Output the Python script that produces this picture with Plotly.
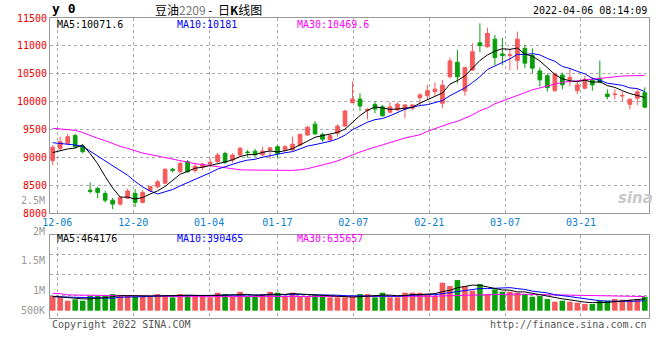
import pandas as pd
import plotly.graph_objects as go

# ---------------- data ----------------
holidays = ["2022-01-03", "2022-01-31", "2022-02-01", "2022-02-02", "2022-02-03", "2022-02-04"]
dates = pd.bdate_range("2021-12-03", "2022-04-01", freq="C", holidays=holidays)
date_labels = [d.strftime("%m-%d") for d in dates]

opens = [8940, 9160, 9250, 9390, 9200, 8410, 8440, 8350, 8230, 8160,
         8265, 8350, 8190, 8400, 8470, 8535, 8785, 8740, 8920, 8760,
         8820, 8880, 8920, 9070, 8950, 9040, 9095, 9110, 9045, 9130,
         9190, 9130, 9130, 9220, 9400, 9595, 9410, 9310, 9430, 9560,
         9980, 10045, 9840, 9950, 9905, 9810, 9850, 9865, 9880, 10070,
         10105, 10180, 9970, 10445, 10705, 10190, 10565, 11055, 10985, 11120,
         10855, 10830, 10735, 10955, 10825, 10550, 10465, 10195, 10475, 10390,
         10195, 10240, 10385, 10415, 10135, 10125, 10100, 9950, 10060, 10160]
highs = [9220, 9370, 9420, 9420, 9230, 8550, 8470, 8400, 8270, 8305,
         8440, 8430, 8410, 8490, 8600, 8800, 8810, 8920, 8950, 8890,
         8900, 8980, 9080, 9100, 9070, 9190, 9130, 9150, 9190, 9175,
         9220, 9220, 9370, 9430, 9560, 9650, 9440, 9410, 9590, 9850,
         10360, 10150, 9880, 10000, 9940, 9990, 9985, 9955, 9950, 10150,
         10300, 10345, 10390, 10790, 10925, 10625, 11045, 11405, 11325, 11195,
         11145, 10950, 11255, 11015, 10955, 10610, 10505, 10520, 10520, 10595,
         10355, 10460, 10435, 10735, 10220, 10220, 10180, 10060, 10220, 10255]
lows = [8860, 9110, 9220, 9160, 9070, 8350, 8260, 8190, 8070, 8130,
        8250, 8110, 8170, 8380, 8440, 8520, 8725, 8725, 8720, 8725,
        8770, 8820, 8900, 8880, 8900, 9000, 8995, 9010, 9020, 8970,
        8980, 9110, 9110, 9205, 9385, 9400, 9280, 9300, 9370, 9550,
        9970, 9830, 9680, 9790, 9730, 9790, 9830, 9700, 9850, 9940,
        10030, 10105, 9880, 10415, 10330, 10105, 10550, 10885, 10965, 10655,
        10655, 10560, 10565, 10600, 10510, 10265, 10180, 10175, 10220, 10280,
        10135, 10220, 10195, 10330, 10040, 10040, 10000, 9860, 9940, 9880]
closes = [9180, 9280, 9370, 9190, 9100, 8390, 8370, 8230, 8160, 8275,
          8395, 8190, 8370, 8475, 8560, 8785, 8765, 8890, 8740, 8840,
          8875, 8910, 9040, 8910, 9040, 9160, 9085, 9045, 9110, 9170,
          9070, 9190, 9235, 9410, 9540, 9420, 9325, 9390, 9560, 9830,
          10045, 9920, 9860, 9865, 9745, 9905, 9955, 9940, 9940, 10120,
          10195, 10225, 10295, 10730, 10445, 10610, 10895, 11005, 11225, 10790,
          10825, 10840, 11120, 10690, 10600, 10390, 10250, 10495, 10300, 10435,
          10300, 10400, 10300, 10345, 10090, 10135, 10110, 10040, 10175, 9900]
volumes = [660000, 600000, 450000, 510000, 450000, 660000, 660000, 660000, 750000, 660000,
           660000, 630000, 630000, 630000, 750000, 700000, 600000, 750000, 700000, 660000,
           700000, 600000, 810000, 750000, 630000, 850000, 630000, 630000, 750000, 850000,
           810000, 630000, 810000, 660000, 660000, 700000, 660000, 600000, 600000, 600000,
           600000, 750000, 750000, 600000, 810000, 600000, 600000, 810000, 810000, 810000,
           750000, 660000, 1260000, 1110000, 1380000, 1110000, 900000, 1200000, 750000, 960000,
           855000, 855000, 810000, 750000, 630000, 660000, 525000, 405000, 450000, 405000,
           360000, 300000, 300000, 450000, 450000, 525000, 495000, 495000, 525000, 630000]

# moving-average values at the left edge (need history before the window)
ma5_head = [9085, 9120, 9150, 9165]
ma10_head = [9262, 9250, 9240, 9220, 9195, 9107, 9019, 8931, 8843]
ma30_price = [9520, 9512, 9505, 9485, 9445, 9390, 9340, 9300, 9250, 9195,
              9160, 9115, 9075, 9050, 9020, 9000, 8970, 8940, 8915, 8885,
              8870, 8850, 8825, 8805, 8785, 8775, 8772, 8770, 8770, 8770,
              8768, 8765, 8765, 8775, 8795, 8830, 8858, 8895, 8935, 8990,
              9050, 9095, 9140, 9180, 9225, 9265, 9310, 9345, 9375, 9405,
              9465, 9515, 9560, 9610, 9645, 9700, 9760, 9835, 9885, 9960,
              10010, 10065, 10120, 10165, 10210, 10245, 10280, 10320, 10345, 10360,
              10375, 10385, 10400, 10415, 10435, 10445, 10458, 10463, 10467, 10470]
vma5_head = [650000, 620000, 580000, 540000]
vma10_head = [630000, 620000, 610000, 600000, 590000, 580000, 570000, 560000, 560000]
vma30 = [780000, 770000, 710000, 705000, 700000, 665000, 660000, 660000, 655000, 655000,
         650000, 635000, 632000, 630000, 630000, 630000, 630000, 630000, 630000, 630000,
         630000, 632000, 632000, 632000, 633000, 633000, 633000, 633000, 634000, 634000,
         634000, 634000, 635000, 635000, 635000, 635000, 636000, 636000, 636000, 636000,
         636000, 636000, 637000, 637000, 637000, 637000, 638000, 638000, 638000, 640000,
         640000, 650000, 665000, 675000, 690000, 700000, 720000, 735000, 740000, 745000,
         745000, 745000, 745000, 740000, 740000, 735000, 730000, 725000, 720000, 715000,
         705000, 700000, 690000, 680000, 670000, 660000, 655000, 650000, 645000, 636000]

tick_dates = ["12-06", "12-20", "01-04", "01-17", "02-07", "02-21", "03-07", "03-21"]
price_ticks = [8000, 8500, 9000, 9500, 10000, 10500, 11000, 11500]

# ---------------- derived ----------------
n = len(closes)
xs = list(range(n))


def rolling(vals, w, head):
    return head + [sum(vals[i - w + 1:i + 1]) / w for i in range(w - 1, len(vals))]


ma5 = rolling(closes, 5, ma5_head)
ma10 = rolling(closes, 10, ma10_head)
vma5 = rolling(volumes, 5, vma5_head)
vma10 = rolling(volumes, 10, vma10_head)

RED = "#F65A5A"
GREEN = "#0A9F0A"
bar_colors = [RED if c >= o else GREEN for o, c in zip(opens, closes)]
# Sina's date grid runs on a slightly different step than the candles
tick_pos = [date_labels.index(d) * n / (n - 1) - 0.4 for d in tick_dates]

MONO = "DejaVu Sans Mono"
CJK = "Noto Sans CJK SC"

fig = go.Figure()
fig.add_trace(go.Candlestick(
    x=xs, open=opens, high=highs, low=lows, close=closes,
    increasing=dict(line=dict(color=RED, width=1), fillcolor=RED),
    decreasing=dict(line=dict(color=GREEN, width=1), fillcolor=GREEN),
    whiskerwidth=0, xaxis="x", yaxis="y", hoverinfo="skip"))
fig.add_trace(go.Scatter(x=xs, y=ma30_price, mode="lines", line=dict(color="#FF00FF", width=1), xaxis="x", yaxis="y"))
fig.add_trace(go.Scatter(x=xs, y=ma10, mode="lines", line=dict(color="#0000FF", width=1), xaxis="x", yaxis="y"))
fig.add_trace(go.Scatter(x=xs, y=ma5, mode="lines", line=dict(color="#000000", width=1), xaxis="x", yaxis="y"))

fig.add_trace(go.Bar(x=xs, y=volumes, marker=dict(color=bar_colors, line=dict(width=0)), width=0.74,
                     xaxis="x2", yaxis="y2"))
fig.add_trace(go.Scatter(x=xs, y=vma30, mode="lines", line=dict(color="#FF00FF", width=1), xaxis="x2", yaxis="y2"))
fig.add_trace(go.Scatter(x=xs, y=vma10, mode="lines", line=dict(color="#0000FF", width=1), xaxis="x2", yaxis="y2"))
fig.add_trace(go.Scatter(x=xs, y=vma5, mode="lines", line=dict(color="#000000", width=1), xaxis="x2", yaxis="y2"))

grid = dict(showgrid=True, gridcolor="#AAAAAA", griddash="dot", gridwidth=1, zeroline=False,
            showline=True, mirror=True, linecolor="#999999", linewidth=1, ticks="", automargin=False)
xr = [-0.36, 79.56]

fig.update_layout(
    width=660, height=360, margin=dict(l=50, r=11, t=18, b=42),
    paper_bgcolor="white", plot_bgcolor="white", showlegend=False, hovermode=False,
    xaxis=dict(domain=[0, 1], anchor="y", range=xr, tickvals=tick_pos, ticktext=tick_dates,
               tickfont=dict(family=MONO, size=10, color="#0A7FD0"), rangeslider=dict(visible=False), **grid),
    yaxis=dict(domain=[0.35, 1], anchor="x", range=[8000, 11500], tickvals=price_ticks,
               ticktext=[str(v) for v in price_ticks],
               tickfont=dict(family=MONO, size=10, color="#EE0000"), **grid),
    xaxis2=dict(domain=[0, 1], anchor="y2", range=xr, tickvals=tick_pos, showticklabels=False, **grid),
    yaxis2=dict(domain=[0, 0.2777], anchor="x2", range=[-328500, 3420000],
                tickvals=[706500, 1606500, 2506500], showticklabels=False, **grid),
)

ann = []


def text(x, y, s, color="#000", size=10, anchor="left", family=MONO, yanchor="middle"):
    ann.append(dict(x=x, y=y, xref="paper", yref="paper", text=s, showarrow=False, xanchor=anchor,
                    yanchor=yanchor, font=dict(family=family, size=size, color=color)))


NB = "\u00a0"
text(0.0, 1.03, "<b>y" + NB + "0</b>", size=13)
text(0.265, 1.027, "豆油<span style='color:#777'>2209</span>" + NB + "-" + NB + NB + "日<b>K</b>线图",
     size=12, anchor="center", family=CJK)
text(1.0, 1.024, "2022-04-06 08:14:09", anchor="right")
text(0.0084, 0.98, "MA5:10071.6", "#000000")
text(0.2087, 0.98, "MA10:10181", "#0000FF")
text(0.409, 0.98, "MA30:10469.6", "#FF00FF")
text(0.0084, 0.2657, "MA5:464176", "#000000")
text(0.2087, 0.2657, "MA10:390465", "#0000FF")
text(0.409, 0.2657, "MA30:635657", "#FF00FF")
for lab, py in [("2.5M", 200), ("2M", 231), ("1.5M", 260.7), ("1M", 290.7), ("500K", 310.7)]:
    text(-0.005, (318 - py) / 300, lab, "#999999", anchor="right")
text(0.0, -0.02, "Copyright 2022 SINA.COM", "#555555")
text(1.0, -0.02, "http://finance.sina.com.cn", "#555555", anchor="right")
text(0.978, 0.40, "<b><i>sina</i></b>", "#C8C8C8", size=15, anchor="center", family="DejaVu Sans")
fig.update_layout(annotations=ann)

fig.write_html("out.html", config={"displayModeBar": False},
               post_script="document.body.style.margin='0';")
